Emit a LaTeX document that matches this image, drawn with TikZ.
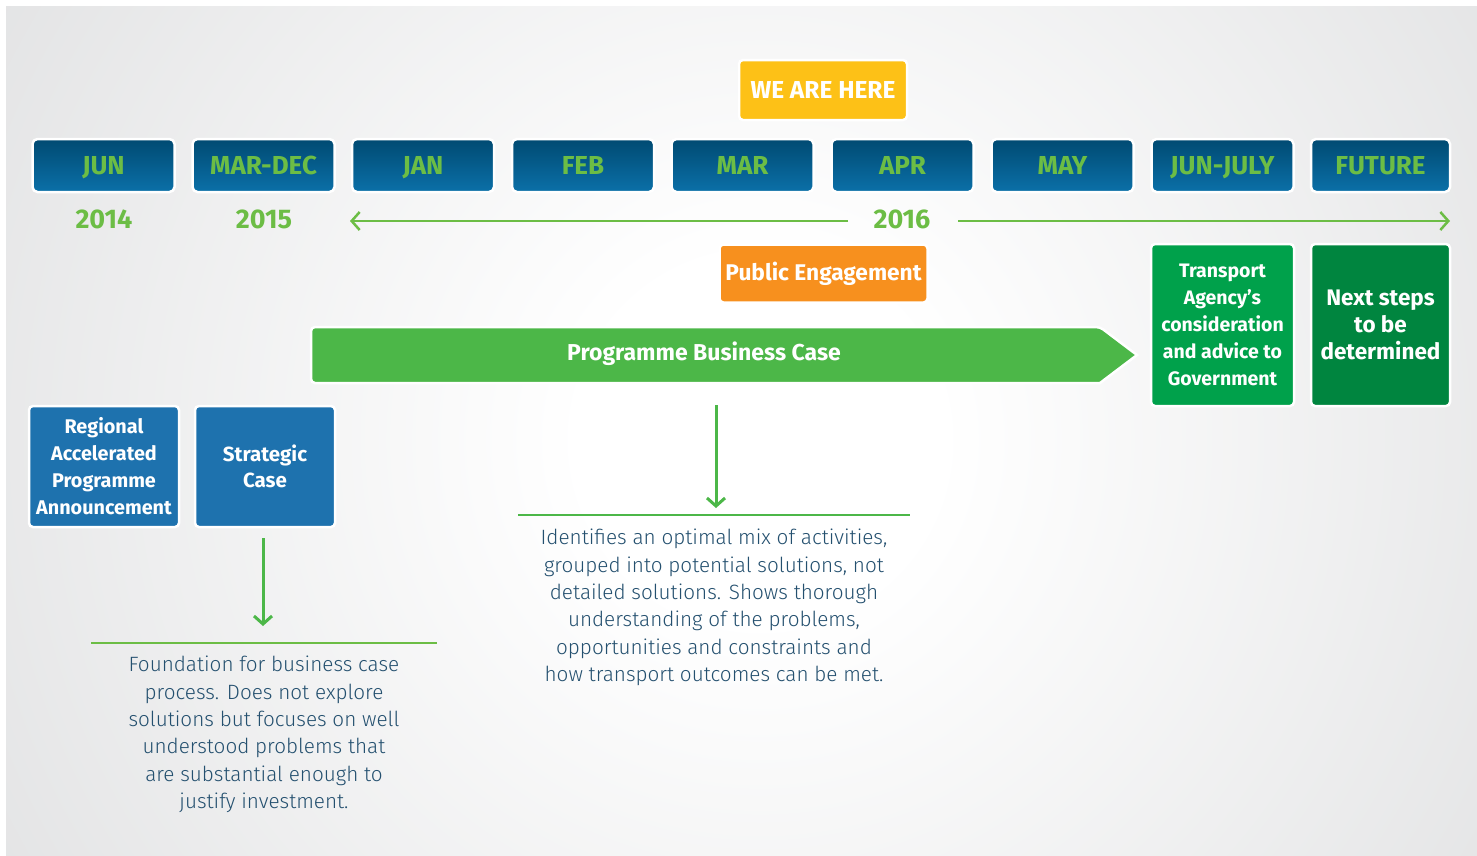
\documentclass[tikz,border=0pt]{standalone}
\usepackage{fontspec}
\setmainfont{Fira Sans}
\newfontfamily\lightfont{Fira Sans Light}
\usetikzlibrary{arrows.meta}
\definecolor{bgray}{HTML}{CBCCCE}
\definecolor{mtop}{HTML}{004A72}
\definecolor{mbot}{HTML}{0B70A8}
\definecolor{lgreen}{HTML}{6CBD45}
\definecolor{yel}{HTML}{FDC117}
\definecolor{ora}{HTML}{F7901E}
\definecolor{pbcg}{HTML}{4CB748}
\definecolor{tgreen}{HTML}{00A14B}
\definecolor{dgreen}{HTML}{00853F}
\definecolor{bbox}{HTML}{1E72AE}
\definecolor{bodyc}{HTML}{24506F}
\pgfdeclareradialshading{bgshade}{\pgfpoint{0bp}{0bp}}{color(0bp)=(white); color(3bp)=(white); color(25bp)=(bgray); color(50bp)=(bgray)}
\begin{document}
\begin{tikzpicture}[x=1pt,y=-1pt,
  mbox/.style={draw=white, line width=2.5pt, rounded corners=5pt, top color=mtop, bottom color=mbot,
    minimum width=142pt, minimum height=53pt, inner sep=0pt, text=lgreen,
    text height=18pt, text depth=0pt,
    font=\fontsize{26}{30}\selectfont\bfseries},
  year/.style={text=lgreen, font=\fontsize{27}{30}\selectfont\bfseries, inner sep=2pt},
  wbox/.style={draw=white, line width=2.5pt, rounded corners=4pt, inner sep=0pt, text=white, align=center},
  body/.style={text=bodyc, align=center, inner sep=0pt, font=\lightfont\fontsize{20.7}{27.3}\selectfont},
  gline/.style={draw=lgreen, line width=2.5pt},
  garrow/.style={draw=pbcg, line width=3pt, -{Straight Barb[length=8pt,width=18pt,line width=3pt]}},
  tarrow/.style={draw=lgreen, line width=2.5pt, -{Straight Barb[length=8pt,width=18pt,line width=2.5pt]}}
]
\useasboundingbox (0,0) rectangle (1477,855);
\fill[white] (0,0) rectangle (1477,855);
\begin{scope}
\clip (6,6) rectangle (1477,855);
\shade[shading=bgshade] (760,440) circle (1500pt);
\end{scope}

% month boxes
\node[mbox] (m1) at (103.5,165.5) {JUN};
\node[mbox] (m2) at (263.5,165.5) {MAR-DEC};
\node[mbox] (m3) at (423,165.5) {JAN};
\node[mbox] (m4) at (583,165.5) {FEB};
\node[mbox] (m5) at (742.5,165.5) {MAR};
\node[mbox] (m6) at (902.5,165.5) {APR};
\node[mbox] (m7) at (1062.5,165.5) {MAY};
\node[mbox] (m8) at (1222.5,165.5) {JUN-JULY};
\node[mbox, minimum width=139pt] (m9) at (1380.5,165.5) {FUTURE};

% we are here
\node[wbox, fill=yel, minimum width=168pt, minimum height=60pt, text height=17pt, text depth=0pt, font=\fontsize{24.5}{28}\selectfont\bfseries] (here) at (823,90) {WE ARE HERE};

% years
\node[year] (y14) at (104,219) {2014};
\node[year] (y15) at (264,219) {2015};
\node[year] (y16) at (902,219) {2016};
\coordinate (lend) at (350,221);
\coordinate (rend) at (1450,221);
\coordinate (lstart) at (848,221);
\coordinate (rstart) at (958,221);
\draw[tarrow] (lstart) -- (lend);
\draw[tarrow] (rstart) -- (rend);

% public engagement
\node[wbox, fill=ora, minimum width=208pt, minimum height=58pt, font=\fontsize{22.7}{26}\selectfont\bfseries] (pe) at (823.5,273.5) {Public Engagement};

% programme business case arrow
\draw[draw=white, line width=2.5pt, fill=pbcg, rounded corners=4pt]
  (311,327) -- (1100,327) [sharp corners] -- (1137,355) -- (1100,383) [rounded corners=4pt] -- (311,383) -- cycle;
\node[text=white, font=\fontsize{23}{26}\selectfont\bfseries] (pbc) at (704,354) {Programme Business Case};

% right green boxes
\node[wbox, fill=tgreen, minimum width=143pt, minimum height=162pt, font=\fontsize{19.5}{27}\selectfont\bfseries] (ta) at (1222.5,325) {Transport\\Agency's\\consideration\\and advice to\\Government};
\node[wbox, fill=dgreen, minimum width=139pt, minimum height=162pt, font=\fontsize{22.5}{27}\selectfont\bfseries] (ns) at (1380.5,325) {Next steps\\to be\\determined};

% blue boxes
\node[wbox, fill=bbox, minimum width=150pt, minimum height=121pt, font=\fontsize{19.8}{27}\selectfont\bfseries] (rap) at (104,466.5) {Regional\\Accelerated\\Programme\\Announcement};
\node[wbox, fill=bbox, minimum width=140pt, minimum height=121pt, font=\fontsize{20.5}{26}\selectfont\bfseries] (sc) at (265,466.5) {Strategic\\Case};

% strategic case arrow + text
\coordinate (sca) at (263,538);
\coordinate (scb) at (263,626);
\draw[garrow] (sca) -- (scb);
\coordinate (sl1) at (91,643);
\coordinate (sl2) at (437,643);
\draw[gline] (sl1) -- (sl2);
\node[body, anchor=north] (sct) at (264,656) {Foundation for business case\\process. Does not explore\\solutions but focuses on well\\understood problems that\\are substantial enough to\\justify investment.};

% pbc arrow + text
\coordinate (pa) at (716,405);
\coordinate (pb) at (716,508);
\draw[garrow] (pa) -- (pb);
\coordinate (pl1) at (518,515);
\coordinate (pl2) at (910,515);
\draw[draw=pbcg, line width=2.5pt] (pl1) -- (pl2);
\node[body, anchor=north] (pbt) at (714,529) {Identifies an optimal mix of activities,\\grouped into potential solutions, not\\detailed solutions. Shows thorough\\understanding of the problems,\\opportunities and constraints and\\how transport outcomes can be met.};
\end{tikzpicture}
\end{document}
